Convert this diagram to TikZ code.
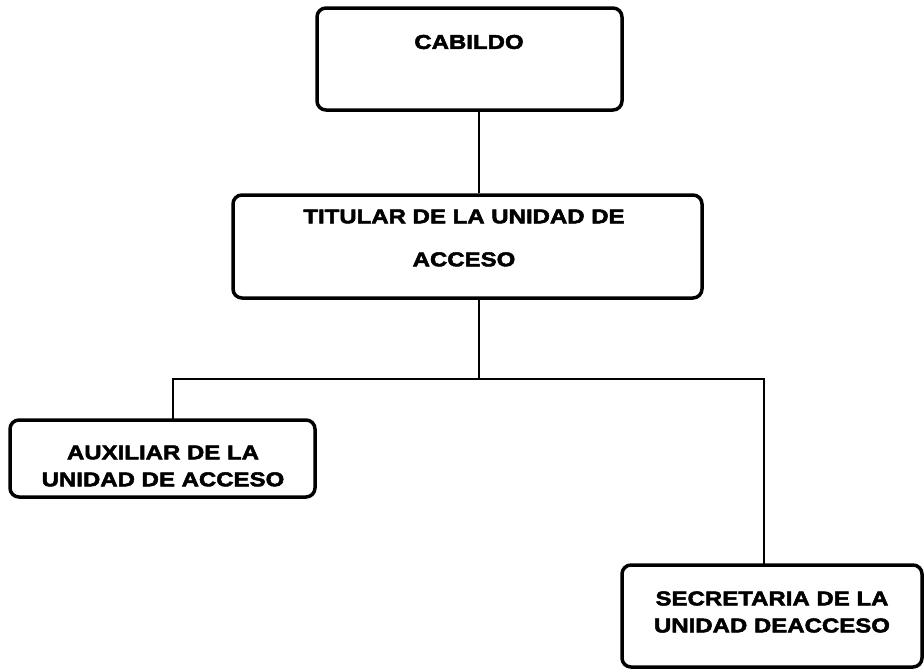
\documentclass[tikz,border=0pt]{standalone}
\usepackage{fontspec}
\setmainfont{Liberation Sans}[FakeStretch=1.2,BoldFeatures={FakeBold=2.5}]
\begin{document}
\begin{tikzpicture}[x=1pt,y=-1pt,
  orgbox/.style={draw=black,line width=3.5pt,rounded corners=9pt,inner sep=0pt},
  orgtext/.style={font=\fontsize{20}{27}\selectfont\bfseries,align=center,inner sep=0pt,text=black},
  link/.style={draw=black,line width=2.5pt}]
\useasboundingbox (0,0) rectangle (924,672);
% boxes
\node[orgbox,minimum width=305pt,minimum height=102pt] (cab) at (469.5,59) {};
\node[orgbox,minimum width=469pt,minimum height=103pt] (tit) at (467.5,246.5) {};
\node[orgbox,minimum width=305pt,minimum height=77pt] (aux) at (162.5,458.5) {};
\node[orgbox,minimum width=300pt,minimum height=102pt] (sec) at (772,616) {};
% texts
\node[orgtext] (cabt) at (469,42) {CABILDO};
\node[orgtext,font=\fontsize{20}{43}\selectfont\bfseries] (titt) at (464,238) {TITULAR DE LA UNIDAD DE\\ACCESO};
\node[orgtext] (auxt) at (163,466) {AUXILIAR DE LA\\UNIDAD DE ACCESO};
\node[orgtext] (sect) at (772,612) {SECRETARIA DE LA\\UNIDAD DEACCESO};
% connectors
\coordinate (j) at (479,379);
\coordinate (jl) at (173,379);
\coordinate (jr) at (764,379);
\draw[link] (cab.south -| j) -- (tit.north -| j);
\draw[link] (tit.south -| j) -- (j);
\draw[link,line cap=rect] (aux.north -| jl) -- (jl) -- (jr) -- (sec.north -| jr);
\end{tikzpicture}
\end{document}
